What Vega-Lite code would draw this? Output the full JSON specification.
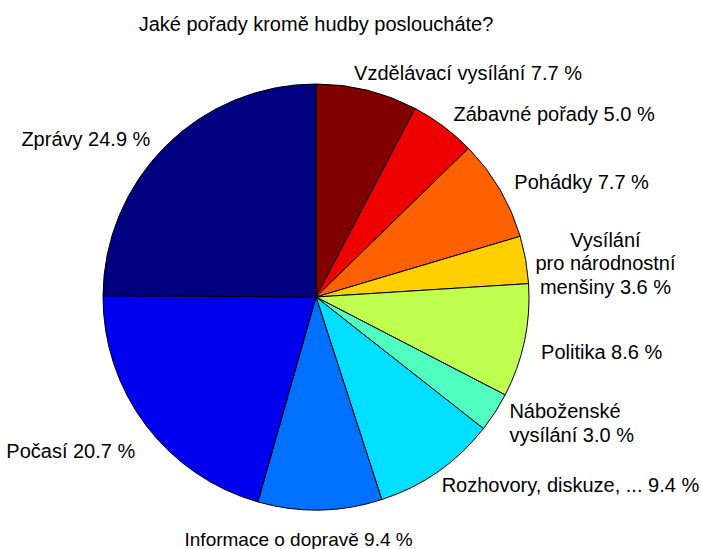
{
  "$schema": "https://vega.github.io/schema/vega-lite/v6.json",
  "width": 426,
  "height": 426,
  "autosize": {"type": "none"},
  "padding": {"left": 103, "top": 84, "right": 172, "bottom": 39},
  "background": "white",
  "config": {"view": {"stroke": null}},
  "title": {
    "text": "Jaké pořady kromě hudby posloucháte?",
    "anchor": "middle",
    "frame": "group",
    "font": "Liberation Sans",
    "fontSize": 20,
    "fontWeight": "normal",
    "color": "black",
    "baseline": "alphabetic",
    "offset": -54
  },
  "data": {
    "values": [
      {"n": 1, "cat": "Vzdělávací vysílání", "v": 7.7, "label": "Vzdělávací vysílání 7.7 %"},
      {"n": 2, "cat": "Zábavné pořady", "v": 5.0, "label": "Zábavné pořady 5.0 %"},
      {"n": 3, "cat": "Pohádky", "v": 7.7, "label": "Pohádky 7.7 %"},
      {"n": 4, "cat": "Vysílání pro národnostní menšiny", "v": 3.6, "label": "Vysílání\npro národnostní\nmenšiny 3.6 %"},
      {"n": 5, "cat": "Politika", "v": 8.6, "label": "Politika 8.6 %"},
      {"n": 6, "cat": "Náboženské vysílání", "v": 3.0, "label": "Náboženské\nvysílání 3.0 %"},
      {"n": 7, "cat": "Rozhovory, diskuze, ...", "v": 9.4, "label": "Rozhovory, diskuze, ... 9.4 %"},
      {"n": 8, "cat": "Informace o dopravě", "v": 9.4, "label": "Informace o dopravě 9.4 %"},
      {"n": 9, "cat": "Počasí", "v": 20.7, "label": "Počasí 20.7 %"},
      {"n": 10, "cat": "Zprávy", "v": 24.9, "label": "Zprávy 24.9 %"}
    ]
  },
  "encoding": {
    "theta": {"field": "v", "type": "quantitative", "stack": true},
    "order": {"field": "n", "type": "quantitative", "sort": "ascending"}
  },
  "layer": [
    {
      "mark": {"type": "arc", "outerRadius": 213, "stroke": "black", "strokeWidth": 1},
      "encoding": {
        "color": {
          "field": "cat",
          "type": "nominal",
          "legend": null,
          "scale": {
            "domain": ["Vzdělávací vysílání", "Zábavné pořady", "Pohádky", "Vysílání pro národnostní menšiny", "Politika", "Náboženské vysílání", "Rozhovory, diskuze, ...", "Informace o dopravě", "Počasí", "Zprávy"],
            "range": ["#800000", "#ef0000", "#ff6000", "#ffcf00", "#bfff50", "#50ffbf", "#00dfff", "#0070ff", "#0000ef", "#000080"]
          }
        }
      }
    },
    {
      "mark": {"type": "text", "font": "Liberation Sans", "fontSize": 20, "color": "black", "align": "left", "baseline": "middle", "dy": 2},
      "encoding": {
        "detail": {"field": "cat"},
        "radius": {"value": 230},
        "text": {"condition": {"test": "datum.cat === 'Zábavné pořady' || datum.cat === 'Pohádky'", "field": "label"}, "value": ""}
      }
    },
    {
      "mark": {"type": "text", "font": "Liberation Sans", "fontSize": 20, "color": "black", "align": "left", "baseline": "middle", "dx": -6},
      "encoding": {
        "detail": {"field": "cat"},
        "radius": {"value": 230},
        "text": {"condition": {"test": "datum.cat === 'Rozhovory, diskuze, ...'", "field": "label"}, "value": ""}
      }
    },
    {
      "mark": {"type": "text", "font": "Liberation Sans", "fontSize": 20, "color": "black", "align": "left", "baseline": "middle", "lineBreak": "\n", "lineHeight": 23.5, "dy": -9},
      "encoding": {
        "detail": {"field": "cat"},
        "radius": {"value": 230},
        "text": {"condition": {"test": "datum.cat === 'Náboženské vysílání'", "field": "label"}, "value": ""}
      }
    },
    {
      "mark": {"type": "text", "font": "Liberation Sans", "fontSize": 20, "color": "black", "align": "left", "baseline": "middle", "dx": -17},
      "encoding": {
        "detail": {"field": "cat"},
        "radius": {"value": 230},
        "text": {"condition": {"test": "datum.cat === 'Vzdělávací vysílání'", "field": "label"}, "value": ""}
      }
    },
    {
      "mark": {"type": "text", "font": "Liberation Sans", "fontSize": 20, "color": "black", "align": "left", "baseline": "middle", "dy": 9},
      "encoding": {
        "detail": {"field": "cat"},
        "radius": {"value": 230},
        "text": {"condition": {"test": "datum.cat === 'Politika'", "field": "label"}, "value": ""}
      }
    },
    {
      "mark": {"type": "text", "font": "Liberation Sans", "fontSize": 20, "color": "black", "align": "right", "baseline": "middle", "dy": 19},
      "encoding": {
        "detail": {"field": "cat"},
        "radius": {"value": 226},
        "text": {"condition": {"test": "datum.cat === 'Počasí'", "field": "label"}, "value": ""}
      }
    },
    {
      "mark": {"type": "text", "font": "Liberation Sans", "fontSize": 20, "color": "black", "align": "right", "baseline": "middle", "dy": 10},
      "encoding": {
        "detail": {"field": "cat"},
        "radius": {"value": 235},
        "text": {"condition": {"test": "datum.cat === 'Zprávy'", "field": "label"}, "value": ""}
      }
    },
    {
      "mark": {"type": "text", "font": "Liberation Sans", "fontSize": 20, "color": "black", "align": "center", "baseline": "middle", "lineBreak": "\n", "lineHeight": 23.5, "dy": -5},
      "encoding": {
        "detail": {"field": "cat"},
        "radius": {"value": 294},
        "text": {"condition": {"test": "datum.cat === 'Vysílání pro národnostní menšiny'", "field": "label"}, "value": ""}
      }
    },
    {
      "mark": {"type": "text", "font": "Liberation Sans", "fontSize": 19, "color": "black", "align": "center", "baseline": "middle", "dx": -22},
      "encoding": {
        "detail": {"field": "cat"},
        "radius": {"value": 243},
        "text": {"condition": {"test": "datum.cat === 'Informace o dopravě'", "field": "label"}, "value": ""}
      }
    }
  ]
}
